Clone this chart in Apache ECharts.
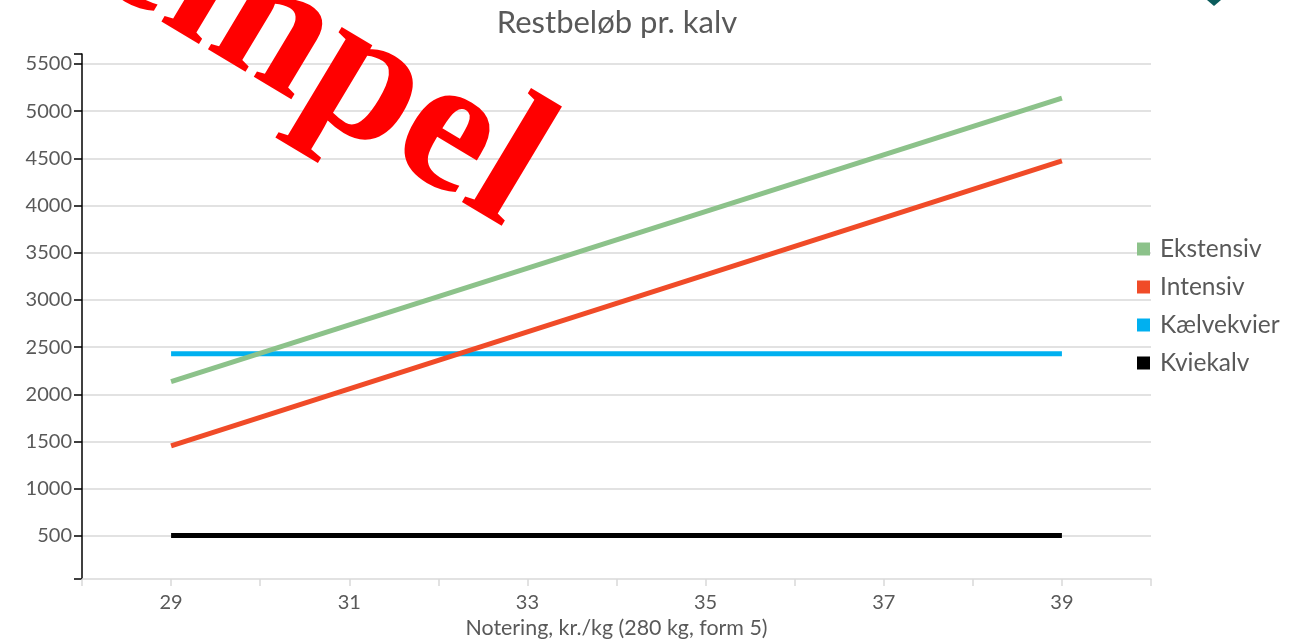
<!DOCTYPE html>
<html>
<head>
<meta charset="utf-8">
<script src="https://cdn.jsdelivr.net/npm/echarts@6/dist/echarts.min.js"></script>
<style>html,body{margin:0;padding:0;background:#fff}#c{width:1303px;height:639px}</style>
</head>
<body>
<div id="c"></div>
<script>
const titleText = 'Restbeløb pr. kalv';
const xAxisName = 'Notering, kr./kg (280 kg, form 5)';
const xValues = [29, 39];
const ekstensiv = [2135, 5137];
const intensiv = [1455, 4472];
const kaelvekvier = [2431, 2431];
const kviekalv = [505, 505];
const yLabels = [500, 1000, 1500, 2000, 2500, 3000, 3500, 4000, 4500, 5000, 5500];
const seriesNames = ['Ekstensiv', 'Intensiv', 'Kælvekvier', 'Kviekalv'];
const seriesColors = ['#8cc28a', '#f04b28', '#00b0f0', '#000000'];
const seriesValues = [ekstensiv, intensiv, kaelvekvier, kviekalv];
const watermark = 'Eksempel';

const FONT = 'Lato';
const TXT = '#595959';
const chart = echarts.init(document.getElementById('c'), null, {renderer: 'canvas'});
chart.setOption({
  animation: false,
  backgroundColor: '#ffffff',
  textStyle: {fontFamily: FONT},
  title: {
    text: titleText, left: 617, top: 7, textAlign: 'center', padding: 0,
    textStyle: {fontFamily: FONT, fontSize: 31, fontWeight: 'normal', color: TXT}
  },
  legend: {
    orient: 'vertical', left: 1137, top: 236.5, padding: 0,
    itemWidth: 13, itemHeight: 13, itemGap: 13,
    icon: 'rect',
    data: seriesNames,
    textStyle: {fontFamily: FONT, fontSize: 24.5, color: TXT, padding: [0, 0, 0, 5]}
  },
  grid: {left: 82, right: 152, top: 54, bottom: 60, containLabel: false, outerBoundsMode: 'none'},
  xAxis: {
    type: 'value', min: 28, max: 40, interval: 1,
    name: xAxisName, nameLocation: 'middle', nameGap: 37,
    nameTextStyle: {fontFamily: FONT, fontSize: 21.4, color: TXT},
    axisLine: {show: true, lineStyle: {color: '#d9d9d9', width: 1.5}},
    axisTick: {show: true, length: 7, lineStyle: {color: '#d9d9d9', width: 1.5}},
    axisLabel: {
      fontFamily: FONT, fontSize: 20, color: TXT, margin: 14,
      formatter: v => (v % 2 === 1 ? String(v) : '')
    },
    splitLine: {show: false}
  },
  yAxis: {
    type: 'value', min: 45, max: 5605,
    axisLine: {show: true, lineStyle: {color: '#000000', width: 1.5}},
    axisTick: {show: true, length: 8, customValues: [45].concat(yLabels, [5605]), lineStyle: {color: '#000000', width: 1.5}},
    axisLabel: {fontFamily: FONT, fontSize: 20, color: TXT, margin: 10, customValues: yLabels, formatter: v => String(v)},
    splitLine: {show: true, showMaxLine: false, showMinLine: false, lineStyle: {color: '#d9d9d9', width: 1.5}}
  },
  series: seriesNames.map((n, i) => ({
    name: n, type: 'line', showSymbol: false, symbol: 'none',
    data: xValues.map((x, j) => [x, seriesValues[i][j]]),
    lineStyle: {color: seriesColors[i], width: 5, cap: 'butt'},
    itemStyle: {color: seriesColors[i]},
    z: 3 + (3 - i)
  })),
  graphic: [
    {
      type: 'polygon', z: 50,
      shape: {points: [[1207, 0], [1221, 0], [1214, 6]]},
      style: {fill: '#0b5c5c'}
    },
    {
      type: 'text', z: 100, x: 530, y: 185, rotation: -31 * Math.PI / 180,
      style: {
        text: watermark, fill: '#ff0000', align: 'right', verticalAlign: 'middle',
        font: 'bold 192px "Liberation Serif"'
      }
    }
  ]
});
</script>
</body>
</html>
